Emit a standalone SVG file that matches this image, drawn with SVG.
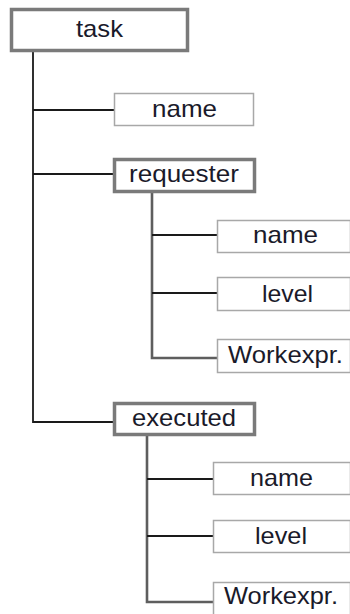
<svg xmlns="http://www.w3.org/2000/svg" width="350" height="614" viewBox="0 0 350 614">
  <style>
    .bold rect { fill: #ffffff; stroke: #7a7a7a; stroke-width: 3.5; }
    .leaf rect { fill: #ffffff; stroke: #a8a8a8; stroke-width: 1.5; }
    text { font-family: "Liberation Sans", Arial, sans-serif; font-size: 24px; fill: #1a1a2a; }
    .blk { fill: none; stroke: #1a1a1a; stroke-width: 1.8; }
    .gry { fill: none; stroke: #5e5e5e; stroke-width: 2.6; }
  </style>
  <rect width="350" height="614" fill="#ffffff"/>
  <g id="connectors">
    <path class="blk" d="M33 52 V422 H113"/>
    <path class="blk" d="M33 110 H114"/>
    <path class="blk" d="M33 174 H113"/>
    <path class="gry" d="M152 193 V358 H217"/>
    <path class="blk" d="M152 235 H217"/>
    <path class="blk" d="M152 293 H217"/>
    <path class="gry" d="M147 435 V602 H213"/>
    <path class="blk" d="M147 479 H213"/>
    <path class="blk" d="M147 536 H213"/>
  </g>
  <g id="task" class="bold">
    <rect x="11.5" y="9.5" width="176" height="41"/>
    <text x="76" y="37" textLength="47" lengthAdjust="spacingAndGlyphs">task</text>
  </g>
  <g id="name1" class="leaf">
    <rect x="114.5" y="93.5" width="139" height="32"/>
    <text x="152" y="117" textLength="65" lengthAdjust="spacingAndGlyphs">name</text>
  </g>
  <g id="requester" class="bold">
    <rect x="114.5" y="159.5" width="140" height="32"/>
    <text x="129" y="182" textLength="110" lengthAdjust="spacingAndGlyphs">requester</text>
  </g>
  <g id="req-name" class="leaf">
    <rect x="217.5" y="220.5" width="133" height="32"/>
    <text x="253" y="243" textLength="65" lengthAdjust="spacingAndGlyphs">name</text>
  </g>
  <g id="req-level" class="leaf">
    <rect x="217.5" y="277.5" width="133" height="33"/>
    <text x="262" y="302" textLength="51" lengthAdjust="spacingAndGlyphs">level</text>
  </g>
  <g id="req-workexpr" class="leaf">
    <rect x="217.5" y="339.5" width="133" height="33"/>
    <text x="228" y="363" textLength="115" lengthAdjust="spacingAndGlyphs">Workexpr.</text>
  </g>
  <g id="executed" class="bold">
    <rect x="114.5" y="403.5" width="140" height="31"/>
    <text x="132" y="426" textLength="104" lengthAdjust="spacingAndGlyphs">executed</text>
  </g>
  <g id="exe-name" class="leaf">
    <rect x="213.5" y="462.5" width="137" height="32"/>
    <text x="250" y="486" textLength="63" lengthAdjust="spacingAndGlyphs">name</text>
  </g>
  <g id="exe-level" class="leaf">
    <rect x="213.5" y="520.5" width="137" height="32"/>
    <text x="255" y="544" textLength="52" lengthAdjust="spacingAndGlyphs">level</text>
  </g>
  <g id="exe-workexpr" class="leaf">
    <rect x="213.5" y="582.5" width="137" height="34"/>
    <text x="224" y="604" textLength="114" lengthAdjust="spacingAndGlyphs">Workexpr.</text>
  </g>
</svg>
